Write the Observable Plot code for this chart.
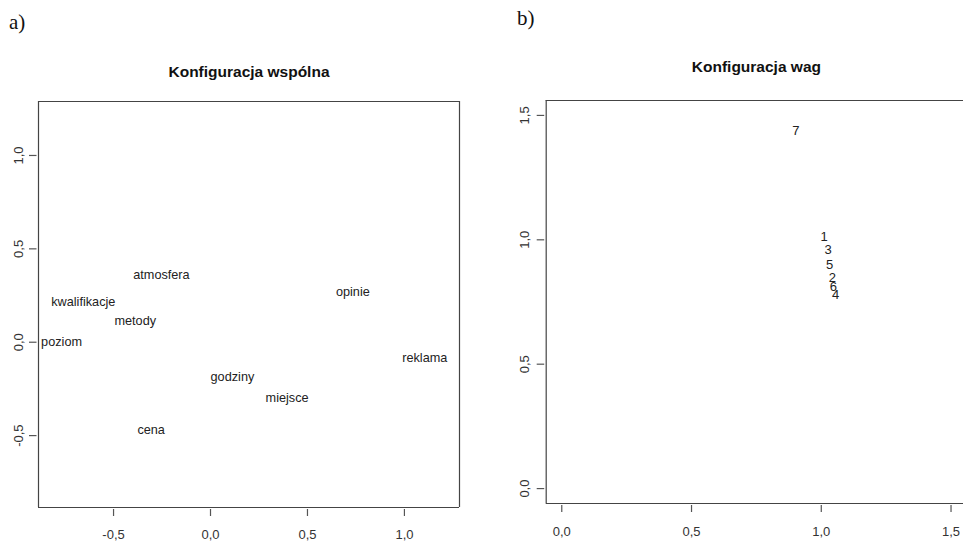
<!DOCTYPE html>
<html>
<head>
<meta charset="utf-8">
<script src="https://cdn.jsdelivr.net/npm/d3@7"></script>
<script src="https://cdn.jsdelivr.net/npm/@observablehq/plot@0.6"></script>
<style>
  html, body { margin: 0; padding: 0; background: #fff; overflow: hidden; width: 963px; height: 541px; }
  #wrap { position: relative; width: 963px; height: 541px; }
  .panel { position: absolute; top: 0; }
  .panel svg { max-width: none !important; display: block; }
  .tag { position: absolute; font-family: "Liberation Serif", "DejaVu Serif", serif; font-size: 21px; color: #111; line-height: 1; }
</style>
</head>
<body>
<div id="wrap">
  <div class="tag" style="left:9px; top:12px;">a)</div>
  <div class="tag" style="left:517px; top:8px;">b)</div>
  <div id="left" class="panel" style="left:0px; width:480px;"></div>
  <div id="right" class="panel" style="left:480px; width:483px;"></div>
</div>
<script>
// ---- Panel a) common configuration ----
const attrNames = ["atmosfera", "kwalifikacje", "metody", "poziom", "opinie", "reklama", "godziny", "miejsce", "cena"];
const attrX = [-0.253, -0.656, -0.388, -0.768, 0.734, 1.105, 0.113, 0.395, -0.306];
const attrY = [0.361, 0.216, 0.116, 0.000, 0.271, -0.086, -0.184, -0.296, -0.468];
const leftXTicks = [-0.5, 0, 0.5, 1.0];
const leftYTicks = [-0.5, 0, 0.5, 1.0];
const leftTitle = "Konfiguracja wspólna";

// ---- Panel b) weights configuration ----
const subjLabels = ["1", "2", "3", "4", "5", "6", "7"];
const subjX = [1.011, 1.043, 1.026, 1.055, 1.032, 1.047, 0.902];
const subjY = [1.012, 0.846, 0.960, 0.778, 0.899, 0.810, 1.440];
const rightXTicks = [0, 0.5, 1.0, 1.5];
const rightYTicks = [0, 0.5, 1.0, 1.5];
const rightTitle = "Konfiguracja wag";

const fmt = d3.format(".1f");
const comma = d => fmt(d).replace(".", ",").replace("−", "-");

const FONT = "Liberation Sans, Arial, sans-serif";

function panel({labels, xs, ys, xTicks, yTicks, title, titleY, width, height, ml, mr, mt, mb,
                xDomain, yDomain, labelSize, xLabelDy, yLabelDx, drawRight}) {
  const data = labels.map((l, i) => ({label: l, x: xs[i], y: ys[i]}));
  const fw = width - ml - mr;
  const fh = height - mt - mb;
  const box = {stroke: "#444", strokeWidth: 1.2};
  const edges = [
    Plot.ruleX([xDomain[0]], box),
    Plot.ruleY([yDomain[0], yDomain[1]], box)
  ];
  if (drawRight) edges.push(Plot.ruleX([xDomain[1]], box));
  return Plot.plot({
    width, height,
    marginLeft: ml, marginRight: mr, marginTop: mt, marginBottom: mb,
    style: {fontFamily: FONT, background: "transparent", overflow: "hidden", maxWidth: "none"},
    x: {domain: xDomain, axis: null},
    y: {domain: yDomain, axis: null},
    marks: [
      ...edges,
      // x ticks
      Plot.ruleX(xTicks, {x: d => d, insetTop: fh + 2, insetBottom: -9, stroke: "#555", strokeWidth: 1.2}),
      // y ticks
      Plot.ruleY(yTicks, {y: d => d, insetLeft: -9, insetRight: fw + 1.5, stroke: "#555", strokeWidth: 1.2}),
      // x tick labels
      Plot.text(xTicks, {x: d => d, frameAnchor: "bottom", dy: xLabelDy, text: comma, lineAnchor: "middle",
        fontSize: 13, fill: "#333"}),
      // y tick labels (rotated)
      Plot.text(yTicks, {y: d => d, frameAnchor: "left", dx: yLabelDx, rotate: -90, text: comma,
        lineAnchor: "middle", textAnchor: "middle", fontSize: 13, fill: "#333"}),
      // title (centred over the frame)
      Plot.text([title], {frameAnchor: "top", dy: -(mt - titleY), text: d => d,
        fontWeight: "bold", fontSize: 15.5, fill: "#111", lineAnchor: "middle"}),
      // data labels
      Plot.text(data, {x: "x", y: "y", text: "label", fontSize: labelSize, fill: "#222",
        lineAnchor: "middle", textAnchor: "middle"})
    ]
  });
}

document.getElementById("left").append(panel({
  labels: attrNames, xs: attrX, ys: attrY, xTicks: leftXTicks, yTicks: leftYTicks, title: leftTitle, titleY: 72,
  width: 480, height: 541, ml: 38, mr: 21, mt: 101, mb: 34,
  xDomain: [-0.887, 1.284], yDomain: [-0.885, 1.289], labelSize: 12.7,
  xLabelDy: 27, yLabelDx: -20, drawRight: true
}));

// right frame edge lies just beyond the window (clipped, as in the reference)
document.getElementById("right").append(panel({
  labels: subjLabels, xs: subjX, ys: subjY, xTicks: rightXTicks, yTicks: rightYTicks, title: rightTitle, titleY: 66.6,
  width: 483, height: 541, ml: 65.7, mr: -3.1, mt: 100, mb: 38,
  xDomain: [-0.06, 1.56], yDomain: [-0.06, 1.56], labelSize: 13,
  xLabelDy: 28, yLabelDx: -21.4, drawRight: false
}));
</script>
</body>
</html>
